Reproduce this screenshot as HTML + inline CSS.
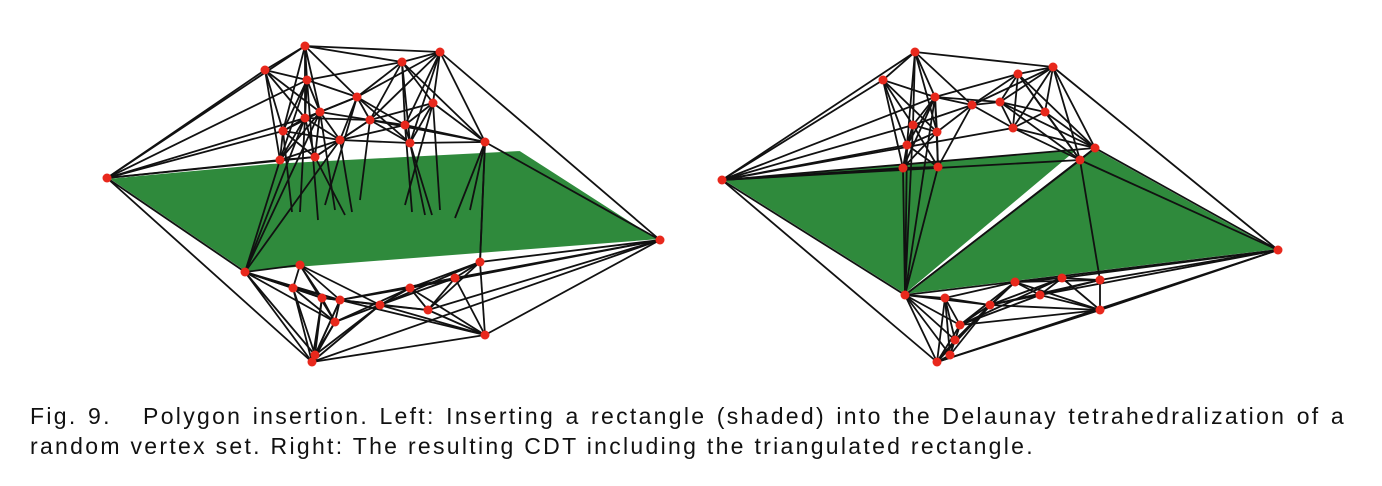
<!DOCTYPE html>
<html><head><meta charset="utf-8">
<style>
html,body{margin:0;padding:0;background:#fff;}
body{width:1382px;height:486px;position:relative;overflow:hidden;}
svg{position:absolute;left:0;top:0;}
.cap{position:absolute;left:30px;width:1316px;font-family:"Liberation Sans",sans-serif;font-size:23px;color:#111;line-height:30px;letter-spacing:2.3px;white-space:nowrap;}
</style></head>
<body>
<svg id="fig" width="1382" height="400">
  <g id="left"></g>
  <g id="right"></g>
</svg>
<div class="cap" style="top:401px;text-align:justify;text-align-last:justify;white-space:normal;">Fig. 9.&nbsp;&nbsp; Polygon insertion. Left: Inserting a rectangle (shaded) into the Delaunay tetrahedralization of a</div>
<div class="cap" style="top:431px;">random vertex set. Right: The resulting CDT including the triangulated rectangle.</div>
<script>
const leftPts=[[107,178],[265,70],[305,46],[440,52],[402,62],[660,240],[312,362],[485,335],[245,272],
[307,80],[357,97],[433,103],[283,131],[305,118],[320,112],[405,125],[410,143],[485,142],[315,157],[280,160],[340,140],[370,120],
[293,288],[322,298],[340,300],[335,322],[410,288],[455,278],[428,310],[315,355],[380,305],[480,262],[300,265]];
const leftHull=[[0,1],[0,2],[0,9],[0,12],[0,19],[0,6],[0,8],[1,2],[2,3],[2,4],[3,5],[3,17],[5,17],[5,7],[5,6],[5,31],[6,8],[6,7],[8,22],[8,29],[3,11],[4,9]];
const leftGreen=[[[107,178],[270,163],[520,150],[660,240],[245,272]]];
const leftHang=[[305,118,300,212],[307,80,318,220],[320,112,335,210],[315,157,345,215],[340,140,352,212],[283,131,292,212],[370,120,360,200],[405,125,412,212],[410,143,425,215],[433,103,440,210],[485,142,455,218],[485,142,470,210],[433,103,405,205],[357,97,325,205],[280,160,245,272],[305,118,245,272],[320,112,245,272],[340,140,245,272],[410,143,432,215],[485,142,480,262]];
const rightPts=[[722,180],[883,80],[915,52],[1053,67],[1278,250],[937,362],[1100,310],[905,295],
[935,97],[972,105],[1018,74],[1045,112],[1000,102],[913,125],[937,132],[907,145],[903,168],[938,167],[1013,128],[1095,148],[1080,160],
[945,298],[960,325],[955,340],[1040,295],[1062,278],[1015,282],[990,305],[1100,280],[950,355]];
const rightHull=[[0,1],[0,2],[0,8],[0,15],[0,16],[0,5],[0,7],[1,2],[2,3],[3,4],[3,19],[4,19],[4,6],[4,5],[4,7],[5,6],[5,7],[6,28],[7,19],[7,20],[0,20],[0,19],[16,7],[17,7],[13,7],[15,7],[0,18],[8,7]];
const rightGreen=[[[722,180],[1080,148],[905,295]],[[905,295],[1095,148],[1278,250]]];
const K=6;
const NS="http://www.w3.org/2000/svg";
function draw(gid,pts,hull,green,hang){
  const g=document.getElementById(gid);
  green.forEach(poly=>{
    const p=document.createElementNS(NS,"polygon");
    
    
    p.setAttribute("points",poly.map(q=>q.join(",")).join(" "));
    p.setAttribute("fill","#2f8a3c");p.setAttribute("stroke","#fff");p.setAttribute("stroke-width","2");
    g.appendChild(p);
  });
  const edges=new Set();
  hull.forEach(([a,b])=>edges.add(Math.min(a,b)+"-"+Math.max(a,b)));
  pts.forEach((p,i)=>{
    const d=pts.map((q,j)=>[j,(q[0]-p[0])**2+(q[1]-p[1])**2]).filter(x=>x[0]!==i).sort((a,b)=>a[1]-b[1]);
    d.slice(0,K).forEach(([j])=>edges.add(Math.min(i,j)+"-"+Math.max(i,j)));
  });
  const segs=[];
  edges.forEach(e=>{const [a,b]=e.split("-").map(Number);segs.push([pts[a][0],pts[a][1],pts[b][0],pts[b][1]]);});
  hang.forEach(s=>segs.push(s));
  segs.forEach(s=>{
    const l=document.createElementNS(NS,"line");
    
    
    l.setAttribute("x1",s[0]);l.setAttribute("y1",s[1]);
    l.setAttribute("x2",s[2]);l.setAttribute("y2",s[3]);
    l.setAttribute("stroke","#111");l.setAttribute("stroke-width","1.8");
    g.appendChild(l);
  });
  pts.forEach(p=>{
    const c=document.createElementNS(NS,"circle");
    
    
    c.setAttribute("cx",p[0]);c.setAttribute("cy",p[1]);c.setAttribute("r","4.5");
    c.setAttribute("fill","#e8281c");
    g.appendChild(c);
  });
}
draw("left",leftPts,leftHull,leftGreen,leftHang);
draw("right",rightPts,rightHull,rightGreen,[]);
</script>
</body></html>
